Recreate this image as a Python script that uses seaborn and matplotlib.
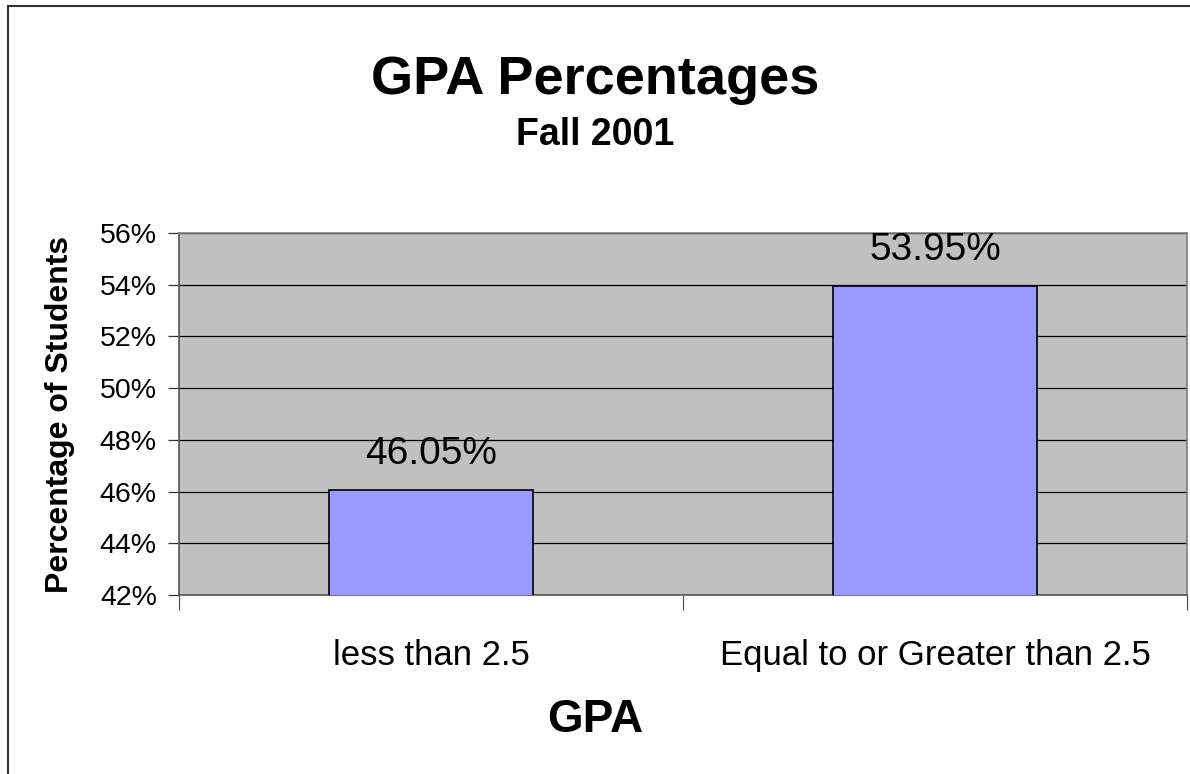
import matplotlib
matplotlib.use("Agg")
import matplotlib.pyplot as plt
import seaborn as sns
import pandas as pd
from matplotlib.patches import Rectangle
from matplotlib.ticker import FuncFormatter

# data
categories = ["less than 2.5", "Equal to or Greater than 2.5"]
percentages = [46.05, 53.95]
y_ticks = [42, 44, 46, 48, 50, 52, 54, 56]

df = pd.DataFrame({"GPA": categories, "Percent": percentages})

sns.set_style("white", {"xtick.bottom": True, "ytick.left": True})
plt.rcParams["font.family"] = ["Liberation Sans", "DejaVu Sans"]
plt.rcParams["text.color"] = "black"
plt.rcParams["axes.labelcolor"] = "black"
plt.rcParams["ytick.color"] = "black"
plt.rcParams["xtick.color"] = "black"

fig = plt.figure(figsize=(11.9, 7.74), dpi=100)
ax = fig.add_axes([0.1504, 0.2313, 0.8471, 0.4677])
ax.set_facecolor("#C0C0C0")

sns.barplot(data=df, x="GPA", y="Percent", color="#9999FF", width=0.405,
            edgecolor="black", linewidth=1.2, saturation=1, ax=ax, zorder=3)

ax.set_ylim(42, 56)
ax.set_yticks(y_ticks)
ax.yaxis.set_major_formatter(FuncFormatter(lambda v, p: f"{v:.0f}%"))
ax.set_xlim(-0.5, 1.5)
ax.grid(axis="y", color="black", linewidth=0.9, zorder=1)
ax.set_axisbelow(True)

# category boundary ticks like Excel
ax.set_xticks([-0.5, 0.5, 1.5])
ax.set_xticklabels([])
ax.tick_params(axis="x", direction="out", length=11, width=0.9, color="#555555")
ax.tick_params(axis="y", direction="out", length=8, width=0.9, labelsize=20.5, pad=8,
               color="#333333")
for i, c in enumerate(categories):
    ax.text(i, -0.168, c, transform=ax.get_xaxis_transform(), ha="center", va="center",
            fontsize=25)

for spine in ["top", "right"]:
    ax.spines[spine].set_color("#808080")
    ax.spines[spine].set_linewidth(1.2)
for spine in ["left", "bottom"]:
    ax.spines[spine].set_color("#555555")
    ax.spines[spine].set_linewidth(1.2)

for i, v in enumerate(percentages):
    ax.text(i, v + 1.4, f"{v:.2f}%", ha="center", va="center", fontsize=28, zorder=4)

ax.set_xlabel("")
ax.set_ylabel("Percentage of Students", fontsize=23, fontweight="bold")
ax.yaxis.set_label_coords(-0.103, 0.5)

fig.text(0.5, 0.07, "GPA", ha="center", va="center", fontsize=33, fontweight="bold")
fig.text(0.5, 0.896, "GPA Percentages", ha="center", va="center", fontsize=39,
         fontweight="bold")
fig.text(0.5, 0.825, "Fall 2001", ha="center", va="center", fontsize=27,
         fontweight="bold")

# chart border: only top and left edges fall inside the image
fig.patches.append(Rectangle((8 / 1190, -0.05), 1.1, 1.05 - 6 / 774,
                             transform=fig.transFigure, fill=False,
                             edgecolor="#333333", linewidth=1.5))

fig.savefig("out.png", dpi=100)
